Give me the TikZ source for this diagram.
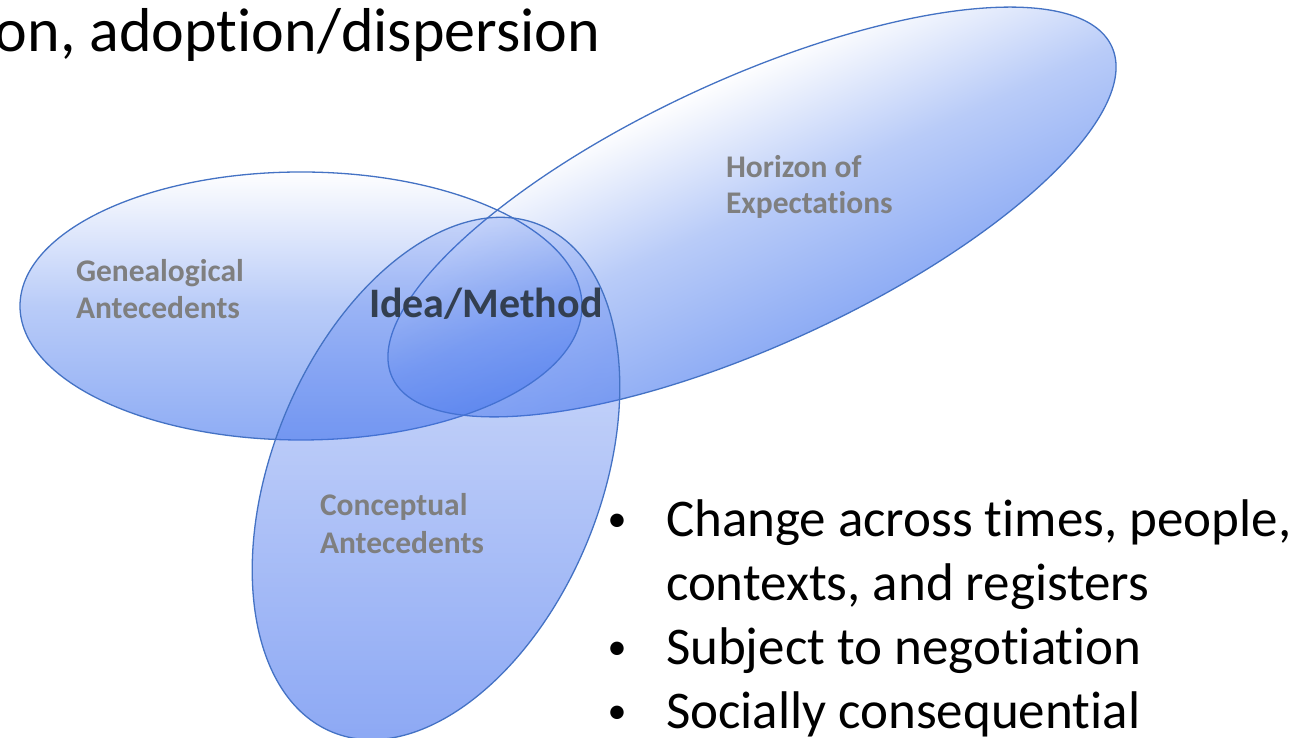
\documentclass[tikz,border=0pt]{standalone}
\usepackage{fontspec}
\setmainfont{Carlito}[Ligatures=NoCommon]
\usetikzlibrary{fadings}

\definecolor{ellDeep}{RGB}{31,91,235}
\definecolor{ellMidBlue}{RGB}{70,115,238}
\definecolor{ellLine}{RGB}{68,114,196}
\definecolor{labelGray}{RGB}{127,127,127}
\definecolor{coreText}{RGB}{51,63,80}

% Gradients of the two lower ovals, sized to each oval's own frame (bottom = deep blue)
\pgfdeclareverticalshading{shadeG}{562pt}{color(0pt)=(ellDeep); color(134pt)=(ellDeep!62!white); color(268pt)=(white)}
\pgfdeclareverticalshading{shadeH}{792pt}{color(0pt)=(ellDeep); color(133pt)=(ellDeep!62!white); color(266pt)=(white)}
% the upper oval is one blue whose opacity grows downwards
\tikzfading[name=conceptfade, top color=transparent!80, middle color=transparent!50, bottom color=transparent!39]

\begin{document}
\begin{tikzpicture}[x=1pt, y=1pt,
  rim/.style={draw=ellLine, line width=1.3pt},
  glow/.style={inner sep=0pt, outer sep=0pt, transform shape, anchor=center},
  lbl/.style={inner sep=0pt, outer sep=0pt, anchor=base west, text=labelGray,
              font=\bfseries\fontsize{31.5}{38}\selectfont},
  core/.style={inner sep=0pt, outer sep=0pt, anchor=base west, text=coreText,
               font=\bfseries\fontsize{42}{50}\selectfont},
  itemtext/.style={inner sep=0pt, outer sep=0pt, anchor=base west,
                   font=\fontsize{53}{64}\selectfont},
  itemdot/.style={inner sep=0pt, outer sep=0pt, anchor=base,
                  font=\fontsize{38}{46}\selectfont}]

\fill[white] (0,0) rectangle (1302,738);
\useasboundingbox (0,0) rectangle (1302,738);

\coordinate (cG) at (301,432);
\coordinate (cH) at (752,526);
\coordinate (cC) at (436,259.5);

% Genealogical oval: fill
\begin{scope}[shift={(cG)}]
  \begin{scope}[fill opacity=0.5]
    \clip (0,0) ellipse [x radius=281, y radius=134];
    \node[glow] (fillG) at (0,0) {\pgfuseshading{shadeG}};
  \end{scope}
\end{scope}

% Horizon oval: fill
\begin{scope}[shift={(cH)}, rotate=24.7]
  \begin{scope}[fill opacity=0.5]
    \clip (0,0) ellipse [x radius=396, y radius=133];
    \node[glow] (fillH) at (0,0) {\pgfuseshading{shadeH}};
  \end{scope}
\end{scope}

% outlines of the two lower ovals
\draw[rim] (cG) ellipse [x radius=281, y radius=134];
\draw[rim, rotate around={24.7:(cH)}] (cH) ellipse [x radius=396, y radius=133];

% Conceptual oval, on top
\begin{scope}[shift={(cC)}, rotate=-22.2]
  \fill[ellMidBlue, path fading=conceptfade] (0,0) ellipse [x radius=164, y radius=274];
  \draw[rim] (0,0) ellipse [x radius=164, y radius=274];
\end{scope}

% heading
\node[anchor=base east, inner sep=0pt, outer sep=0pt, font=\fontsize{62}{74}\selectfont]
  (title) at (600,686) {on, adoption/dispersion};

% oval labels
\node[lbl] (gen1) at (76,456) {Genealogical};
\node[lbl] (gen2) at (76,419) {Antecedents};
\node[lbl] (hor1) at (726,560) {Horizon of};
\node[lbl] (hor2) at (726,524) {Expectations};
\node[lbl] (con1) at (320,222) {Conceptual};
\node[lbl] (con2) at (320,184) {Antecedents};
\node[core] (idea) at (369,420) {Idea/Method};

% bullet list
\node[itemdot]  (b1) at (617,206) {•};
\node[itemtext] (t1) at (666,201) {Change across times, people,};
\node[itemtext] (t2) at (666,137) {contexts, and registers};
\node[itemdot]  (b3) at (617,78) {•};
\node[itemtext] (t3) at (666,73) {Subject to negotiation};
\node[itemdot]  (b4) at (617,14) {•};
\node[itemtext] (t4) at (666,9) {Socially consequential};

\end{tikzpicture}
\end{document}
